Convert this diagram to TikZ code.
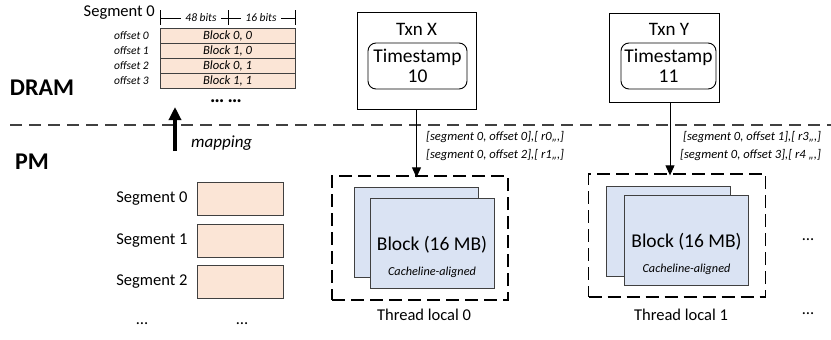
\documentclass[tikz,border=0pt]{standalone}
\usepackage{fontspec}
\setmainfont{Carlito}
\usetikzlibrary{arrows.meta}
\definecolor{peach}{HTML}{FBE5D6}
\definecolor{paleblue}{HTML}{DAE3F3}
\definecolor{edgegray}{HTML}{404040}
\tikzset{
  lbl/.style={inner sep=0pt, font=\fontsize{16.5}{19}\selectfont},
  big/.style={inner sep=0pt, font=\fontsize{24}{28}\selectfont\bfseries},
  small/.style={inner sep=0pt, font=\fontsize{11.5}{13}\selectfont\itshape},
  addr/.style={inner sep=0pt, anchor=west, font=\fontsize{12.6}{15}\selectfont\itshape},
  row/.style={draw=edgegray, line width=0.8pt, fill=peach, minimum width=135pt, minimum height=15pt, inner sep=0pt, font=\fontsize{12.6}{14}\selectfont\itshape},
  seg/.style={draw=edgegray, line width=0.8pt, fill=peach, minimum width=86pt, minimum height=33pt, inner sep=0pt},
  txnbox/.style={draw=black, line width=0.9pt, inner sep=0pt},
  tsbox/.style={draw=black, line width=0.9pt, rounded corners=8pt, inner sep=0pt, align=center, font=\fontsize{19.5}{20}\selectfont},
  blockbox/.style={draw=edgegray, line width=1pt, fill=paleblue, minimum width=124pt, minimum height=90pt, inner sep=0pt},
  tlbox/.style={draw=black, line width=1.3pt, dash pattern=on 13pt off 6pt, inner sep=0pt},
  sep/.style={draw=edgegray, line width=1.8pt, dash pattern=on 12pt off 7pt},
  flow/.style={line width=1pt, -{Triangle[length=10pt,width=9pt]}},
  bracket/.style={line width=0.8pt},
}
\begin{document}
\begin{tikzpicture}[x=1pt, y=-1pt]
\useasboundingbox (0,0) rectangle (831,340);

% ---- layer labels and the DRAM / PM boundary
\node[big] (dram) at (42,88) {DRAM};
\node[big] (pm) at (32,162) {PM};
\coordinate (sepL) at (10,125);
\coordinate (sepR) at (831,125);
\draw[sep] (sepL) -- (sepR);

% ---- DRAM: index of segment 0
\node[lbl, anchor=east] (seg0title) at (155,13) {Segment 0};
\node[small] (b48) at (201,18) {48 bits};
\node[small] (b16) at (261,18) {16 bits};
\coordinate (tA) at (160,10); \coordinate (tA2) at (160,25);
\coordinate (tB) at (228,10); \coordinate (tB2) at (228,25);
\coordinate (tC) at (295,10); \coordinate (tC2) at (295,25);
\draw[bracket] (tA) -- (tA2) (tB) -- (tB2) (tC) -- (tC2);
\draw[bracket] (160,18) -- ([xshift=-4pt]b48.west);
\draw[bracket] ([xshift=4pt]b48.east) -- ([xshift=-4pt]b16.west);
\draw[bracket] ([xshift=4pt]b16.east) -- (295,18);

\node[row] (r0) at (227.5,36) {Block 0, 0};
\node[row] (r1) at (227.5,51) {Block 1, 0};
\node[row] (r2) at (227.5,66) {Block 0, 1};
\node[row] (r3) at (227.5,81) {Block 1, 1};
\node[small, anchor=east] (o0) at (149,36) {offset 0};
\node[small, anchor=east] (o1) at (149,51) {offset 1};
\node[small, anchor=east] (o2) at (149,66) {offset 2};
\node[small, anchor=east] (o3) at (149,81) {offset 3};
\node[inner sep=0pt, anchor=base, font=\fontsize{20}{22}\selectfont\bfseries] (rdots) at (226,102) {…\,…};

% ---- mapping arrow from PM up to DRAM
\coordinate (mapFrom) at (175,151);
\coordinate (mapTo) at (175,107);
\draw[line width=3.2pt, -{Triangle[length=13pt,width=12pt]}] (mapFrom) -- (mapTo);
\node[lbl, font=\fontsize{17}{19}\selectfont\itshape, anchor=west] (maplbl) at (191,143) {mapping};

% ---- PM segments
\node[seg] (s0) at (240,198.5) {};
\node[seg] (s1) at (240,240.5) {};
\node[seg] (s2) at (240,281.5) {};
\node[lbl, anchor=east] (s0l) at ([xshift=-9pt]s0.west) {Segment 0};
\node[lbl, anchor=east] (s1l) at ([xshift=-9pt]s1.west) {Segment 1};
\node[lbl, anchor=east] (s2l) at ([xshift=-9pt]s2.west) {Segment 2};
\node[lbl] (sdotsA) at (142,324) {…};
\node[lbl] (sdotsB) at (242,324) {…};

% ---- transaction X
\node[txnbox, minimum width=119pt, minimum height=97pt] (txnx) at (416.5,60.5) {};
\node[lbl, font=\fontsize{19}{20}\selectfont] (txnxl) at (416.5,29) {Txn X};
\node[tsbox, minimum width=99pt, minimum height=46pt] (tsx) at (417.5,66) {Timestamp\\10};

% ---- transaction Y
\node[txnbox, minimum width=110pt, minimum height=89pt] (txny) at (664,57.5) {};
\node[lbl, font=\fontsize{19}{20}\selectfont] (txnyl) at (669,29) {Txn Y};
\node[tsbox, minimum width=95pt, minimum height=46pt] (tsy) at (668.5,66) {Timestamp\\11};

% ---- thread-local areas
\node[tlbox, minimum width=176pt, minimum height=124pt] (tl0) at (420,238) {};
\node[tlbox, minimum width=177pt, minimum height=123pt] (tl1) at (677,235.5) {};

\node[blockbox] (bk0) at (416.5,232.5) {};
\node[blockbox] (fr0) at (432,243) {};
\node[lbl, font=\fontsize{19.5}{21}\selectfont] (fr0t) at (432,245) {Block (16 MB)};
\node[small, font=\fontsize{12.2}{14}\selectfont\itshape] (fr0c) at (432,272) {Cacheline-aligned};

\node[blockbox] (bk1) at (668.5,231.5) {};
\node[blockbox] (fr1) at (686.5,240) {};
\node[lbl, font=\fontsize{19.5}{21}\selectfont] (fr1t) at (686.5,242) {Block (16 MB)};
\node[small, font=\fontsize{12.2}{14}\selectfont\itshape] (fr1c) at (686.5,269) {Cacheline-aligned};

\node[lbl] (tl0l) at (424,315) {Thread local 0};
\node[lbl] (tl1l) at (681,315) {Thread local 1};
\node[lbl] (tdotsA) at (808,240) {…};
\node[lbl] (tdotsB) at (808,314) {…};

% ---- writes into thread-local blocks
\draw[flow] (txnx.south) -- ([yshift=-2pt]txnx.south |- tl0.north);
\draw[flow] ([xshift=6pt]txny.south) -- ([xshift=6pt, yshift=-2pt]txny.south |- tl1.north);
\node[addr] (ax1) at (426,137) {[segment 0, offset 0],[ r0,,,]};
\node[addr] (ax2) at (426,155) {[segment 0, offset 2],[ r1,,,]};
\node[addr] (ay1) at (683,137) {[segment 0, offset 1],[ r3,,,]};
\node[addr] (ay2) at (680,155) {[segment 0, offset 3],[ r4 ,,,]};
\end{tikzpicture}
\end{document}
